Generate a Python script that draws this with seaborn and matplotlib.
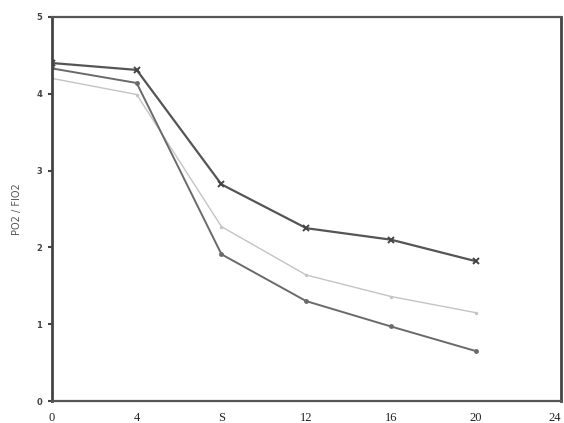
import numpy as np
import pandas as pd
import matplotlib
matplotlib.use("Agg")
import matplotlib.pyplot as plt
import seaborn as sns

# values
days = [0, 4, 8, 12, 16, 20]
group_a = [4.40, 4.31, 2.82, 2.25, 2.10, 1.82]   # upper curve, x markers
group_b = [4.20, 3.99, 2.27, 1.64, 1.36, 1.15]   # faint middle curve
group_c = [4.33, 4.14, 1.91, 1.30, 0.97, 0.65]   # lower curve, dot markers

xtick_pos = [0, 4, 8, 12, 16, 20, 24]
xtick_labels = ["0", "4", "S", "12", "16", "20", "24"]
ytick_pos = [0, 1, 2, 3, 4, 5]

sns.set_theme(style="white")
plt.rcParams['font.family'] = ['DejaVu Sans']

fig = plt.figure(figsize=(5.64, 4.23), dpi=100)
ax = fig.add_axes([0.092, 0.052, 0.902, 0.908])

df = pd.DataFrame({'day': days, 'a': group_a, 'b': group_b, 'c': group_c})

sns.lineplot(data=df, x='day', y='b', ax=ax, color='#c4c4c4', linewidth=1.0,
             marker='o', markersize=2.5, markeredgewidth=0)
sns.lineplot(data=df, x='day', y='c', ax=ax, color='#6a6a6a', linewidth=1.4,
             marker='o', markersize=3.5, markeredgewidth=0)
sns.lineplot(data=df, x='day', y='a', ax=ax, color='#555555', linewidth=1.6,
             marker='x', markersize=5, markeredgewidth=1.4,
             markeredgecolor='#444444')

ax.set_xlim(0, 23.85)
ax.set_ylim(0, 5)
ax.set_xticks(xtick_pos)
ax.set_xticklabels(xtick_labels, fontfamily='Liberation Serif', fontsize=9,
                   color='#222222')
ax.get_xticklabels()[-1].set_horizontalalignment('right')
ax.set_yticks(ytick_pos)
ax.set_yticklabels([str(v) for v in ytick_pos], fontsize=6, color='#444444',
                   fontweight='bold')
ax.tick_params(axis='y', length=3, width=1.5, color='#444444', pad=4, left=True)
ax.tick_params(axis='x', length=0, pad=8)
ax.set_xlabel('')
ax.set_ylabel('PO2 / FIO2', fontsize=7, color='#555555', labelpad=10)

for side in ['left', 'right']:
    ax.spines[side].set_linewidth(2.0)
    ax.spines[side].set_color('#444444')
for side in ['top', 'bottom']:
    ax.spines[side].set_linewidth(1.6)
    ax.spines[side].set_color('#555555')

fig.savefig('out.png', dpi=100)
